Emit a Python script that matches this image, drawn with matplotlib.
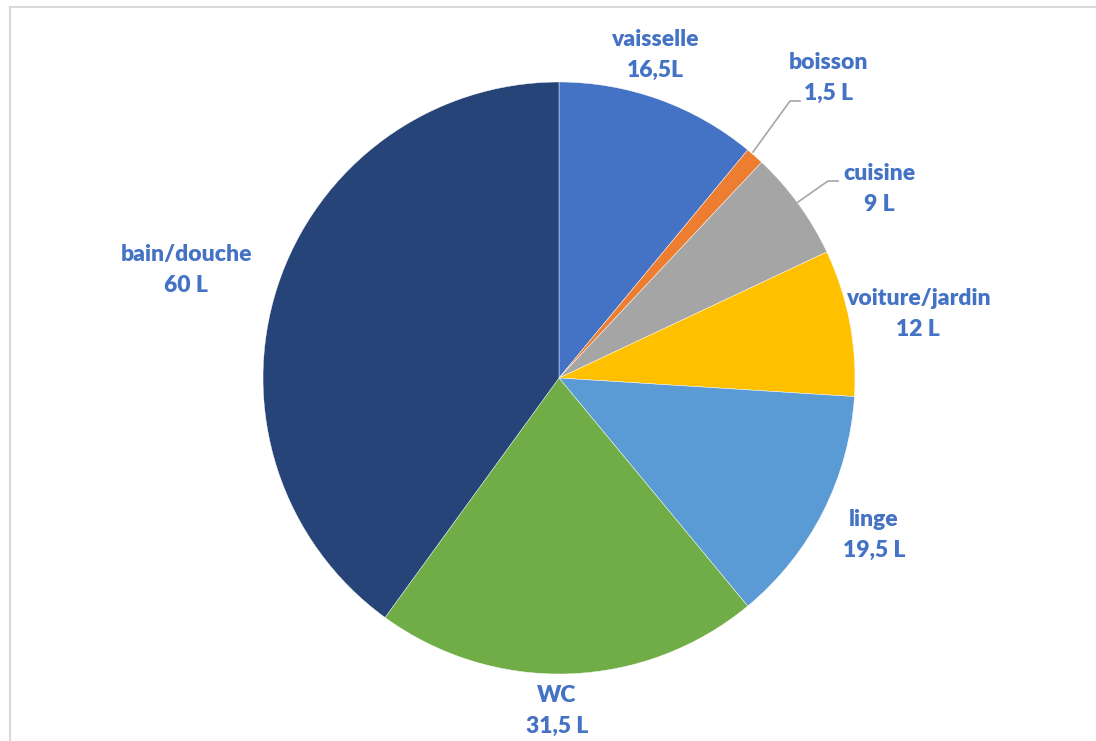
import matplotlib.pyplot as plt
from matplotlib.lines import Line2D

# water use per person per day (litres)
categories = ['vaisselle', 'boisson', 'cuisine', 'voiture/jardin', 'linge', 'WC', 'bain/douche']
values = [16.5, 1.5, 9, 12, 19.5, 31.5, 60]
value_labels = ['16,5L', '1,5 L', '9 L', '12 L', '19,5 L', '31,5 L', '60 L']
colors = ['#4472C4', '#ED7D31', '#A5A5A5', '#FFC000', '#5B9BD5', '#70AD47', '#264478']

W, H = 1096, 741
LABEL_COLOR = '#4472C4'
LINE_COLOR = '#A6A6A6'

fig = plt.figure(figsize=(W / 100, H / 100), dpi=100)
ax = fig.add_axes([0, 0, 1, 1])

# pie in pixel space (y upward)
cx, cy, r = 559, H - 378, 296
wedges, _ = ax.pie(values, colors=colors, startangle=90, counterclock=False,
                   center=(cx, cy), radius=r, frame=True,
                   wedgeprops=dict(edgecolor='white', linewidth=0.3))
ax.set_xlim(0, W)
ax.set_ylim(0, H)
ax.axis('off')

# label anchor points (pixel coords, from top)
label_pos = {
    'vaisselle': (655, 55),
    'boisson': (828, 78),
    'cuisine': (879, 189),
    'voiture/jardin': (918, 314),
    'linge': (874, 535),
    'WC': (557, 711),
    'bain/douche': (186, 270),
}
for name, val in zip(categories, value_labels):
    x, y = label_pos[name]
    ax.text(x, H - y, f'{name}\n{val}', ha='center', va='center',
            fontsize=16.5, fontweight='heavy', family='Lato',
            color=LABEL_COLOR, linespacing=1.55)

# leader lines for the small slices
ax.plot([753, 790, 800], [H - 152, H - 101, H - 101], color=LINE_COLOR, lw=1.2)
ax.plot([798, 828, 838], [H - 202, H - 181, H - 181], color=LINE_COLOR, lw=1.2)

# chart area border (top and left visible)
fig.add_artist(Line2D([10 / W, 10 / W], [0, 1 - 7 / H], transform=fig.transFigure,
                      color='#D9D9D9', lw=1.5))
fig.add_artist(Line2D([10 / W, 1], [1 - 7 / H, 1 - 7 / H], transform=fig.transFigure,
                      color='#D9D9D9', lw=1.5))

fig.savefig('out.png', dpi=100)
